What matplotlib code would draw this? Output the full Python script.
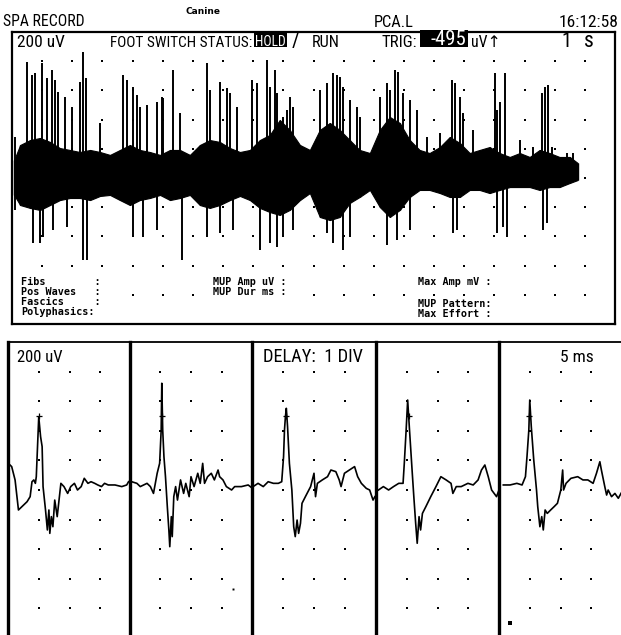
import matplotlib
matplotlib.use("Agg")
import matplotlib.pyplot as plt
from matplotlib import font_manager
from matplotlib.patches import Rectangle

W, H = 621, 635

# ---- top panel: interference pattern, 1 s/div, 200 uV/div ----
# dense band envelope (s, uV)
env_t = [0.07, 0.27, 0.6, 0.93, 1.26, 1.59, 1.92, 2.25, 2.59, 2.92, 3.25, 3.58, 3.91, 4.24,
         4.57, 4.91, 5.24, 5.57, 5.9, 6.23, 6.56, 6.89, 7.23, 7.56, 7.89, 8.22, 8.55, 8.88,
         9.21, 9.55, 9.88, 10.21, 10.54, 10.87, 11.2, 11.53, 11.87, 12.2, 12.53, 12.86, 13.19,
         13.52, 13.85, 14.19, 14.52, 14.85, 15.18, 15.51, 15.84, 16.17, 16.51, 16.84, 17.17,
         17.5, 17.83, 18.16, 18.5, 18.76]
env_hi = [123, 226, 260, 274, 247, 205, 192, 178, 192, 178, 158, 192, 226, 192,
          178, 158, 192, 192, 158, 226, 260, 247, 205, 178, 192, 260, 295, 397,
          329, 226, 192, 329, 377, 329, 260, 192, 171, 329, 418, 377, 260,
          192, 171, 212, 281, 240, 171, 192, 212, 171, 144, 171, 144,
          192, 171, 144, 144, 103]
env_lo = [-116, -185, -205, -219, -185, -151, -137, -137, -151, -123, -116, -151, -185, -151,
          -137, -116, -151, -137, -116, -185, -205, -185, -151, -123, -151, -205, -233, -253,
          -219, -151, -103, -267, -288, -267, -171, -130, -82, -199, -267, -219, -130,
          -82, -82, -103, -130, -130, -82, -82, -103, -82, -62, -62, -62,
          -82, -62, -62, -34, -14]

# positive spikes (s, uV)
up_t = [0.1, 0.5, 0.66, 0.76, 0.99, 1.16, 1.33, 1.43, 1.52, 1.76, 1.99, 2.25, 2.35, 2.45, 2.92,
        3.68, 3.81, 4.01, 4.14, 4.24, 4.47, 4.81, 4.97, 5.0, 5.34, 5.57,
        6.46, 6.56, 6.89, 7.13, 7.23, 7.46,
        7.95, 8.12, 8.45, 8.55, 8.72, 8.78, 8.98, 9.12, 9.21, 9.31,
        10.21, 10.44, 10.64, 10.77, 10.87, 10.97, 11.2, 11.43, 11.53,
        12.2, 12.43, 12.53, 12.69, 12.79, 12.96, 13.19, 13.42, 13.76, 14.19,
        14.58, 14.68, 14.85, 14.95, 15.28, 16.01, 16.08, 16.17, 16.34, 16.84, 17.27,
        17.57, 17.67, 17.77, 17.9, 18.4, 18.6]
up_v = [281, 795, 706, 719, 788, 685, 740, 671, 589, 555, 486, 658, 863, 685, 377,
        706, 671, 623, 569, 486, 500, 521, 555, 548, 740, 445,
        788, 603, 658, 617, 582, 486,
        671, 651, 808, 623, 740, 582, 418, 466, 555, 486,
        603, 651, 719, 706, 692, 623, 534, 486, 418,
        555, 651, 603, 740, 726, 582, 534, 466, 281, 308,
        671, 651, 555, 445, 329, 719, 466, 521, 719, 260, 212,
        582, 623, 637, 212, 171, 171]

# negative spikes (s, uV)
dn_t = [0.1, 0.7, 0.93, 1.03, 1.36, 1.82, 2.35, 2.49, 4.01, 4.34, 4.81, 5.63, 6.46, 6.89, 7.33,
        8.22, 8.55, 8.78, 8.98, 9.31, 10.44, 10.64, 10.97, 11.2, 12.43, 12.76, 13.19,
        14.62, 14.75, 16.08, 16.27, 16.41, 17.6, 17.73]
dn_v = [-219, -445, -445, -404, -356, -336, -562, -562, -404, -404, -356, -562, -404, -377, -356,
        -493, -445, -473, -404, -356, -377, -445, -493, -404, -459, -425, -356,
        -377, -356, -377, -336, -404, -356, -308]

# ---- bottom panels: 5 triggered MUP sweeps, 5 ms/div, 200 uV/div ----
mup_t = [
    [0.05, 0.6, 1.15, 1.7, 2.25, 3.1, 3.6, 3.9, 4.2, 4.45, 4.6, 5.0, 5.3, 5.55, 5.7, 6.1, 6.4,
     6.65, 6.8, 7.05, 7.3, 7.6, 8.0, 8.6, 9.1, 9.7, 10.2, 10.8, 11.3, 11.9, 12.4, 13.0, 13.5,
     14.1, 14.6, 15.2, 15.7, 16.3, 17.4, 18.5, 19.3, 19.6],
    [0.35, 1.2, 1.75, 2.3, 2.85, 3.4, 3.9, 4.2, 4.5, 4.9, 5.15, 5.25, 5.4, 5.6, 5.85, 6.15,
     6.4, 6.55, 6.8, 6.95, 7.2, 7.5, 7.8, 8.3, 8.8, 9.15, 9.7, 10.0, 10.5, 11.1, 11.5, 11.9,
     12.2, 12.7, 13.3, 13.8, 14.4, 14.65, 15.2, 15.75, 16.6, 17.1, 18.2, 19.3, 20.0],
    [0.1, 0.9, 1.75, 2.55, 3.4, 4.2, 4.75, 5.05, 5.2, 5.35, 5.5, 5.7, 6.0, 6.4, 6.7, 6.95,
     7.25, 7.5, 7.8, 8.05, 8.6, 9.45, 10.0, 10.25, 10.55, 11.35, 12.2, 12.75, 13.55, 14.1,
     14.4, 14.95, 15.75, 16.6, 17.1, 17.7, 18.5, 19.05, 19.6, 19.9],
    [0.4, 1.2, 2.05, 2.85, 3.7, 4.4, 4.6, 4.9, 5.15, 5.45, 5.9, 6.15, 6.45, 6.7, 7.0, 7.25,
     7.55, 8.1, 8.9, 9.75, 10.55, 11.4, 12.2, 12.5, 13.05, 13.85, 14.95, 15.8, 16.6, 17.15,
     17.7, 18.25, 18.8, 19.6, 20.0],
    [0.7, 1.8, 2.9, 3.75, 4.3, 4.55, 4.85, 5.0, 5.25, 5.65, 6.1, 6.3, 6.65, 6.95, 7.2, 7.5,
     7.85, 8.4, 8.95, 9.5, 10.05, 10.35, 10.5, 10.9, 11.7, 12.8, 13.65, 14.45, 15.3, 15.85,
     16.4, 16.65, 17.2, 17.5, 17.75, 18.3, 18.85, 19.4, 20.0],
]
mup_v = [
    [180, 158, 68, -135, -113, -79, -45, 56, 68, 45, 90, 495, 360, 293, 23, -135, -270,
     -135, -293, -180, -248, -68, -180, 45, 23, -23, 23, 45, 0, 23, 79, 45, 56,
     45, 34, 23, 45, 34, 34, 23, 34, 56],
    [56, 45, 23, 34, 45, 23, -23, 45, 113, 180, 405, 721, 405, 225, 90, -113,
     -270, -383, -180, -315, -45, 23, -68, 68, -23, 45, -45, 90, 23, 113, 45, 180,
     45, 90, 113, 68, 135, 90, 68, 23, 0, 23, 23, 34, 11],
    [23, 45, 23, 56, 45, 45, 56, 225, 405, 495, 552, 428, 180, 0, -248, -315,
     -203, -293, -225, -90, -45, 23, 113, -45, 45, 68, 90, 135, 124, 68,
     23, 113, 135, 158, 90, 45, 11, 0, -68, -45],
    [0, 23, 0, 23, 45, 45, 180, 405, 608, 405, 113, -45, -225, -360, -180, -270,
     -158, -113, -45, 23, 90, 68, 45, -23, 23, 23, 45, 34, 68, 135,
     169, 90, 0, -45, 0],
    [34, 34, 45, 34, 90, 225, 405, 608, 428, 203, 0, -113, -248, -180, -270, -135,
     -158, -135, -113, -90, 0, 135, 0, 45, 79, 90, 68, 68, 45, 113,
     191, 135, 23, -34, 0, -45, -23, -56, -11],
]
cursor_t = [5.0, 5.25, 5.45, 5.3, 4.95]
cursor_v = 500

# header strings
header = {"record": "SPA RECORD", "subject": "Canine", "muscle": "PCA.L", "clock": "16:12:58"}

# narrowest installed face for the screen font
ttf = font_manager.fontManager.ttflist
names = {f.name for f in ttf}
font, stretch = "DejaVu Sans", "normal"
for cand in ["Roboto Condensed", "Liberation Sans Narrow", "Open Sans Condensed",
             "Noto Sans Condensed", "DejaVu Sans Condensed"]:
    if cand in names:
        font = cand
        break
else:
    if any(f.name == "DejaVu Sans" and f.stretch in ("condensed", 75) for f in ttf):
        stretch = "condensed"
scr = [font, "DejaVu Sans"]


def px(x, y):
    return x / W, 1 - y / H


def dots(ax, ncols, nrows, x0, dx, y0, dy, skip=()):
    xs, ys = [], []
    for i in range(1, ncols):
        for j in range(1, nrows):
            if (i, j) in skip:
                continue
            xs.append(x0 + i * dx)
            ys.append(y0 + j * dy)
    ax.plot(xs, ys, "s", color="black", ms=1.6, mew=0, zorder=1)


fig = plt.figure(figsize=(W / 100, H / 100), dpi=100)
fig.patch.set_facecolor("white")
rend = fig.canvas.get_renderer()


def put(x, y, s, width=None, ha="left", color="black", size=16):
    t = fig.text(*px(x, y), s, family=scr, fontstretch=stretch, fontsize=size,
                 color=color, va="baseline", ha=ha, zorder=5)
    if width:
        w = t.get_window_extent(rend).width
        if w > width:
            t.set_fontsize(size * width / w)
    return t


# top panel
ax = fig.add_axes([12 / W, 1 - 324 / H, 603 / W, 292 / H])
ax.set_xlim(0, 20)
ax.set_ylim(-1000, 1000)
# no dots behind the "Pos Waves" / "MUP Dur ms" fields
skip = [(i, 9) for i in (1, 2, 3, 7, 8, 9)]
dots(ax, 20, 10, 0, 1, 1000, -200, skip)
ax.fill_between(env_t, env_hi, env_lo, color="black", lw=0.8, zorder=2)
ax.vlines(env_t, env_lo, env_hi, color="black", lw=1.0, zorder=2)
ax.vlines(up_t, 0, up_v, color="black", lw=1.4, zorder=2)
ax.vlines(dn_t, 0, dn_v, color="black", lw=1.4, zorder=2)
ax.set_xticks([])
ax.set_yticks([])
for s in ax.spines.values():
    s.set_linewidth(1.6)

# bottom panels
lefts = [8, 129.5, 252.5, 376, 499]
for k in range(5):
    a = fig.add_axes([lefts[k] / W, 1 - 638 / H, 123 / W, 296 / H])
    a.set_xlim(0, 20)
    a.set_ylim(-1000, 1000)
    dots(a, 4, 10, 0, 5, 1000, -200)
    a.plot(mup_t[k], mup_v[k], color="black", lw=1.2, zorder=2)
    a.plot(cursor_t[k], cursor_v, "+", color="black", ms=4, mew=0.9, zorder=3)
    a.set_xticks([])
    a.set_yticks([])
    for s in a.spines.values():
        s.set_linewidth(1.3)
    a.spines["left"].set_linewidth(2.4)
    if k == 1:
        a.plot([16.9], [-670], "s", color="black", ms=1.4, mew=0)
    if k == 4:
        a.plot([1.8], [-900], "s", color="black", ms=3.5, mew=0)

# header row
put(3, 26, header["record"], 82)
fig.text(*px(185, 14), header["subject"], family="DejaVu Sans", fontsize=6.5,
         fontweight="bold", va="baseline")
put(374, 27, header["muscle"], 40)
put(619, 27, header["clock"], 60, ha="right")

# status row inside top box
fig.patches.append(Rectangle(px(254, 47), 33 / W, 16 / H, transform=fig.transFigure,
                             fc="black", ec="none", zorder=4))
fig.patches.append(Rectangle(px(420, 47), 48 / W, 17 / H, transform=fig.transFigure,
                             fc="black", ec="none", zorder=4))
put(17, 47, "200 uV", 48)
put(110, 47, "FOOT SWITCH STATUS:", 143)
put(255, 46, "HOLD", 31, color="white")
put(292, 47, "/", 8)
put(312, 47, "RUN", 28)
put(382, 47, "TRIG:", 36)
put(466, 45, "-495", 36, ha="right", color="white")
put(471, 47, "uV\u2191", 30)
put(561, 47, "1", 10)
put(584, 47, "s", 10)

# summary fields
sm = dict(family="DejaVu Sans Mono", fontsize=7.3, fontweight="bold", va="baseline")
rows = [285, 295, 305, 315]
fig.text(*px(21, rows[0]), "Fibs        :", **sm)
fig.text(*px(21, rows[1]), "Pos Waves   :", **sm)
fig.text(*px(21, rows[2]), "Fascics     :", **sm)
fig.text(*px(21, rows[3]), "Polyphasics:", **sm)
fig.text(*px(213, rows[0]), "MUP Amp uV :", **sm)
fig.text(*px(213, rows[1]), "MUP Dur ms :", **sm)
fig.text(*px(418, rows[0]), "Max Amp mV :", **sm)
fig.text(*px(418, rows[2] + 2), "MUP Pattern:", **sm)
fig.text(*px(418, rows[3] + 2), "Max Effort :", **sm)

# bottom labels
put(17, 362, "200 uV", 46)
put(263, 362, "DELAY:  1 DIV", 100)
put(560, 362, "5 ms", 34)

fig.savefig("out.png", dpi=100, facecolor="white")
